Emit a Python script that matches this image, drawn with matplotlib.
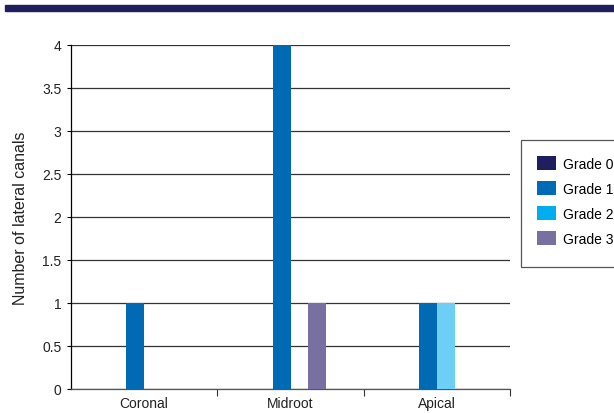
import numpy as np
import matplotlib
matplotlib.use("Agg")
import matplotlib.pyplot as plt
from matplotlib.patches import Patch, Rectangle

# ── Data ──────────────────────────────────────────────────────────────────────
categories = ["Coronal", "Midroot", "Apical"]
grades = ["Grade 0", "Grade 1", "Grade 2", "Grade 3"]
grade0 = [0, 0, 0]
grade1 = [1, 4, 1]
grade2 = [0, 0, 1]
grade3 = [0, 1, 0]
yticks = [0, 0.5, 1, 1.5, 2, 2.5, 3, 3.5, 4]

bar_colors = ["#201E5E", "#006AB4", "#6ECFF6", "#7870A0"]
legend_colors = ["#201E5E", "#006AB4", "#00AEEF", "#7870A0"]

plt.rcParams["font.family"] = ["Liberation Sans", "DejaVu Sans"]

fig = plt.figure(figsize=(6.14, 4.14), dpi=100)

# navy band across the top
fig.patches.append(Rectangle((5 / 614, 1 - 12 / 414), 1, 6 / 414,
                             transform=fig.transFigure, color="#201E5E", zorder=0))

ax = fig.add_axes([71 / 614, 1 - 390 / 414, (510 - 71) / 614, (390 - 46) / 414])

x = np.arange(len(categories))
width = 0.123
series = [grade0, grade1, grade2, grade3]
for i, vals in enumerate(series):
    ax.bar(x + (i - 1.5) * width, vals, width, color=bar_colors[i], zorder=3,
           linewidth=0)

ax.set_xlim(-0.5, len(categories) - 0.5)
ax.set_ylim(0, 4)
ax.set_yticks(yticks)
ax.set_yticklabels([f"{t:g}" for t in yticks], fontsize=10, color="#222222")
ax.tick_params(axis="y", length=3, width=0.8, pad=4)

ax.set_xticks(x)
ax.set_xticklabels(categories, fontsize=10, color="#222222")
ax.tick_params(axis="x", which="major", length=0, pad=5)
ax.set_xticks(list(x[:-1] + 0.5) + [len(categories) - 0.5], minor=True)
ax.tick_params(axis="x", which="minor", length=5, width=0.8, color="#333333")

ax.grid(axis="y", color="#333333", linewidth=0.9, zorder=0)
for side in ["top", "right"]:
    ax.spines[side].set_visible(False)
ax.spines["left"].set_linewidth(0.9)
ax.spines["bottom"].set_linewidth(0.9)
ax.spines["bottom"].set_color("#555555")

ax.set_ylabel("Number of lateral canals", fontsize=11.5, color="#222222", labelpad=10)

# legend box (drawn separately: it has extra room at the bottom)
fig.patches.append(Rectangle((521 / 614, 1 - 268 / 414), 100 / 614, 127 / 414,
                             transform=fig.transFigure, facecolor="white",
                             edgecolor="#555555", linewidth=0.9, zorder=1))

handles = [Patch(facecolor=c, edgecolor="none") for c in legend_colors]
leg = fig.legend(handles, grades, loc="upper left",
                 bbox_to_anchor=(521 / 614, 1 - 141 / 414),
                 fontsize=10, frameon=False,
                 handlelength=1.4, handleheight=1.15, handletextpad=0.45,
                 labelspacing=0.75, borderpad=1.15, borderaxespad=0)
leg.set_zorder(2)

fig.savefig("out.png", dpi=100)
